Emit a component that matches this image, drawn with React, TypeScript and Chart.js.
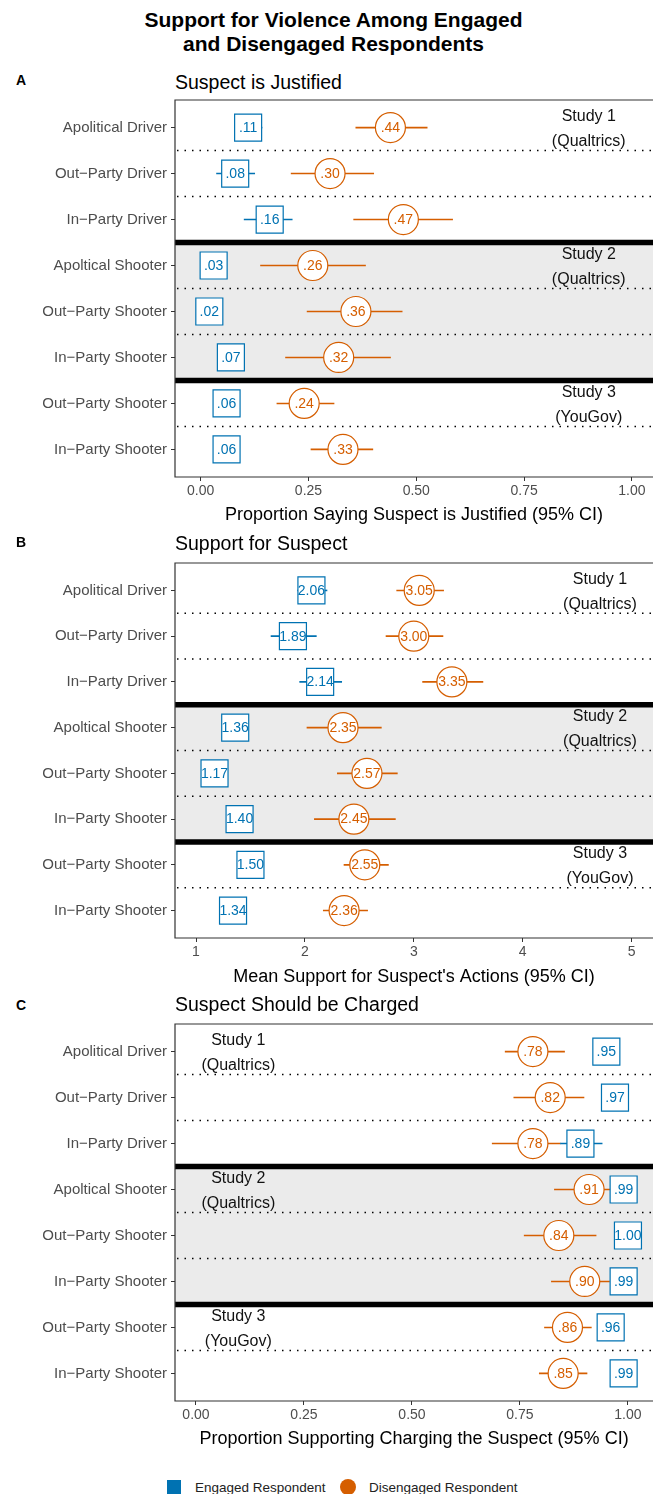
import React, { useEffect, useRef } from "react";
import { Chart, registerables } from "chart.js";

Chart.register(...registerables);

// ---------------- data ----------------
const ROW_LABELS = [
  "Apolitical Driver",
  "Out\u2212Party Driver",
  "In\u2212Party Driver",
  "Apoltical Shooter",
  "Out\u2212Party Shooter",
  "In\u2212Party Shooter",
  "Out\u2212Party Shooter",
  "In\u2212Party Shooter",
];

const STUDY_ROWS = [0, 3, 6];
const STUDY_LINES = [
  ["Study 1", "(Qualtrics)"],
  ["Study 2", "(Qualtrics)"],
  ["Study 3", "(YouGov)"],
];

// Panel A: Suspect is Justified (proportion)
const A_ENGAGED = [0.11, 0.08, 0.16, 0.03, 0.02, 0.07, 0.06, 0.06];
const A_ENGAGED_LOW = [0.085, 0.036, 0.1, 0.005, 0.0, 0.045, 0.035, 0.035];
const A_ENGAGED_HIGH = [0.143, 0.126, 0.213, 0.055, 0.045, 0.095, 0.085, 0.085];
const A_DISENGAGED = [0.44, 0.3, 0.47, 0.26, 0.36, 0.32, 0.24, 0.33];
const A_DISENGAGED_LOW = [0.359, 0.209, 0.354, 0.138, 0.246, 0.196, 0.176, 0.255];
const A_DISENGAGED_HIGH = [0.526, 0.402, 0.585, 0.383, 0.468, 0.441, 0.31, 0.4];
const A_TICKS = [0, 0.25, 0.5, 0.75, 1.0];

// Panel B: Support for Suspect (mean)
const B_ENGAGED = [2.06, 1.89, 2.14, 1.36, 1.17, 1.4, 1.5, 1.34];
const B_ENGAGED_LOW = [1.93, 1.686, 1.949, 1.26, 1.07, 1.3, 1.4, 1.24];
const B_ENGAGED_HIGH = [2.206, 2.108, 2.341, 1.46, 1.27, 1.5, 1.6, 1.44];
const B_DISENGAGED = [3.05, 3.0, 3.35, 2.35, 2.57, 2.45, 2.55, 2.36];
const B_DISENGAGED_LOW = [2.84, 2.742, 3.078, 2.016, 2.295, 2.084, 2.356, 2.166];
const B_DISENGAGED_HIGH = [3.277, 3.271, 3.638, 2.705, 2.852, 2.834, 2.77, 2.579];
const B_TICKS = [1, 2, 3, 4, 5];

// Panel C: Suspect Should be Charged (proportion)
const C_ENGAGED = [0.95, 0.97, 0.89, 0.99, 1.0, 0.99, 0.96, 0.99];
const C_ENGAGED_LOW = [0.93, 0.95, 0.843, 0.97, 0.985, 0.97, 0.94, 0.97];
const C_ENGAGED_HIGH = [0.97, 0.99, 0.941, 1.0, 1.0, 1.0, 0.98, 1.0];
const C_DISENGAGED = [0.78, 0.82, 0.78, 0.91, 0.84, 0.9, 0.86, 0.85];
const C_DISENGAGED_LOW = [0.715, 0.735, 0.685, 0.829, 0.759, 0.822, 0.806, 0.794];
const C_DISENGAGED_HIGH = [0.854, 0.899, 0.844, 0.962, 0.927, 0.958, 0.916, 0.906];
const C_TICKS = [0, 0.25, 0.5, 0.75, 1.0];

// ---------------- style ----------------
const FONT = '"Liberation Sans", Arial, Helvetica, sans-serif';
const BLUE = "#0072B2";
const ORANGE = "#D55E00";
const SHADE = "#EBEBEB";
const AXIS_GRAY = "#4D4D4D";
const BORDER = "#333333";
const W = 653;

const fmtProp = (v: number) => v.toFixed(2).replace(/^0/, "");
const fmtMean = (v: number) => v.toFixed(2);

type PanelCfg = {
  key: string;
  top: number;
  height: number;
  xmin: number;
  xmax: number;
  ticks: number[];
  tickFmt: (v: number) => string;
  labelFmt: (v: number) => string;
  xTitle: string;
  titlePad: number;
  studyX: number;
  eng: number[];
  engLo: number[];
  engHi: number[];
  dis: number[];
  disLo: number[];
  disHi: number[];
};

const PANELS: PanelCfg[] = [
  {
    key: "A",
    top: 90,
    height: 445,
    xmin: -0.0596,
    xmax: 1.049,
    ticks: A_TICKS,
    tickFmt: (v) => v.toFixed(2),
    labelFmt: fmtProp,
    xTitle: "Proportion Saying Suspect is Justified (95% CI)",
    titlePad: 9,
    studyX: 0.9,
    eng: A_ENGAGED,
    engLo: A_ENGAGED_LOW,
    engHi: A_ENGAGED_HIGH,
    dis: A_DISENGAGED,
    disLo: A_DISENGAGED_LOW,
    disHi: A_DISENGAGED_HIGH,
  },
  {
    key: "B",
    top: 553,
    height: 443,
    xmin: 0.807,
    xmax: 5.197,
    ticks: B_TICKS,
    tickFmt: (v) => String(v),
    labelFmt: fmtMean,
    xTitle: "Mean Support for Suspect's Actions (95% CI)",
    titlePad: 8.5,
    studyX: 4.71,
    eng: B_ENGAGED,
    engLo: B_ENGAGED_LOW,
    engHi: B_ENGAGED_HIGH,
    dis: B_DISENGAGED,
    disLo: B_DISENGAGED_LOW,
    disHi: B_DISENGAGED_HIGH,
  },
  {
    key: "C",
    top: 1014,
    height: 445,
    xmin: -0.0486,
    xmax: 1.058,
    ticks: C_TICKS,
    tickFmt: (v) => v.toFixed(2),
    labelFmt: fmtProp,
    xTitle: "Proportion Supporting Charging the Suspect (95% CI)",
    titlePad: 9,
    studyX: 0.098,
    eng: C_ENGAGED,
    engLo: C_ENGAGED_LOW,
    engHi: C_ENGAGED_HIGH,
    dis: C_DISENGAGED,
    disLo: C_DISENGAGED_LOW,
    disHi: C_DISENGAGED_HIGH,
  },
];

const DOTTED_AT = [0.5, 1.5, 3.5, 4.5, 6.5];
const THICK_AT = [2.5, 5.5];
const SHADE_RANGE = [2.5, 5.5];

function makeDecor(p: PanelCfg) {
  return {
    id: "decor_" + p.key,
    beforeDatasetsDraw(chart: any) {
      const { ctx, chartArea: ca } = chart;
      const x = chart.scales.x;
      const y = chart.scales.y;
      ctx.save();
      const y1 = y.getPixelForValue(SHADE_RANGE[0]);
      const y2 = y.getPixelForValue(SHADE_RANGE[1]);
      ctx.fillStyle = SHADE;
      ctx.fillRect(ca.left, y1, ca.right - ca.left, y2 - y1);

      ctx.strokeStyle = "#000";
      ctx.lineWidth = 1.5;
      ctx.setLineDash([1.5, 6]);
      DOTTED_AT.forEach((v) => {
        const yy = y.getPixelForValue(v);
        ctx.beginPath();
        ctx.moveTo(ca.left + 2, yy);
        ctx.lineTo(ca.right, yy);
        ctx.stroke();
      });
      ctx.setLineDash([]);

      ctx.lineWidth = 1.6;
      const drawCI = (lo: number[], hi: number[], color: string) => {
        ctx.strokeStyle = color;
        lo.forEach((l, i) => {
          const yy = y.getPixelForValue(i);
          ctx.beginPath();
          ctx.moveTo(x.getPixelForValue(l), yy);
          ctx.lineTo(x.getPixelForValue(hi[i]), yy);
          ctx.stroke();
        });
      };
      drawCI(p.disLo, p.disHi, ORANGE);
      drawCI(p.engLo, p.engHi, BLUE);
      ctx.restore();
    },
    afterDatasetsDraw(chart: any) {
      const { ctx, chartArea: ca } = chart;
      const x = chart.scales.x;
      const y = chart.scales.y;
      ctx.save();
      // thick study separators
      ctx.strokeStyle = "#000";
      ctx.lineWidth = 5.6;
      THICK_AT.forEach((v) => {
        const yy = y.getPixelForValue(v);
        ctx.beginPath();
        ctx.moveTo(ca.left, yy);
        ctx.lineTo(ca.right, yy);
        ctx.stroke();
      });
      // panel border (right side is off the page)
      ctx.strokeStyle = BORDER;
      ctx.lineWidth = 1.2;
      ctx.beginPath();
      ctx.moveTo(ca.right, ca.top);
      ctx.lineTo(ca.left, ca.top);
      ctx.lineTo(ca.left, ca.bottom);
      ctx.lineTo(ca.right, ca.bottom);
      ctx.stroke();

      // labels inside marks
      ctx.font = `14px ${FONT}`;
      ctx.textAlign = "center";
      ctx.textBaseline = "middle";
      p.eng.forEach((v, i) => {
        ctx.fillStyle = BLUE;
        ctx.fillText(p.labelFmt(v), x.getPixelForValue(v), y.getPixelForValue(i) + 0.5);
      });
      p.dis.forEach((v, i) => {
        ctx.fillStyle = ORANGE;
        ctx.fillText(p.labelFmt(v), x.getPixelForValue(v), y.getPixelForValue(i) + 0.5);
      });

      // study labels
      ctx.font = `16px ${FONT}`;
      ctx.fillStyle = "#111";
      STUDY_ROWS.forEach((r, k) => {
        const cx = x.getPixelForValue(p.studyX);
        const cy = y.getPixelForValue(r);
        ctx.fillText(STUDY_LINES[k][0], cx, cy - 11);
        ctx.fillText(STUDY_LINES[k][1], cx, cy + 14);
      });
      ctx.restore();
    },
  };
}

function Panel({ cfg }: { cfg: PanelCfg }) {
  const ref = useRef<HTMLCanvasElement>(null);
  useEffect(() => {
    const chart = new Chart(ref.current as HTMLCanvasElement, {
      type: "scatter",
      data: {
        datasets: [
          {
            label: "Engaged Respondent",
            data: cfg.eng.map((v, i) => ({ x: v, y: i })),
            pointStyle: "rect",
            pointRadius: 19.1,
            pointBackgroundColor: "#ffffff",
            pointBorderColor: BLUE,
            pointBorderWidth: 1.2,
            showLine: false,
            clip: false,
          },
          {
            label: "Disengaged Respondent",
            data: cfg.dis.map((v, i) => ({ x: v, y: i })),
            pointStyle: "circle",
            pointRadius: 15,
            pointBackgroundColor: "#ffffff",
            pointBorderColor: ORANGE,
            pointBorderWidth: 1.2,
            showLine: false,
            clip: false,
          },
        ],
      },
      options: {
        animation: false,
        responsive: false,
        events: [],
        layout: { autoPadding: false, padding: { top: 10, left: 0, right: 0, bottom: 0 } },
        plugins: {
          legend: { display: false },
          tooltip: { enabled: false },
          title: { display: false },
        },
        scales: {
          x: {
            type: "linear",
            min: cfg.xmin,
            max: cfg.xmax,
            afterBuildTicks: (s: any) => {
              s.ticks = cfg.ticks.map((v) => ({ value: v }));
            },
            afterFit: (s: any) => {
              s.height = 58;
              s.paddingLeft = 0;
              s.paddingRight = 0;
              s.paddingTop = 0;
              s.paddingBottom = 0;
            },
            ticks: {
              callback: (v: any) => cfg.tickFmt(Number(v)),
              color: AXIS_GRAY,
              font: { family: FONT, size: 14 },
              padding: 2,
              maxRotation: 0,
              autoSkip: false,
            },
            grid: {
              drawOnChartArea: false,
              drawTicks: true,
              tickLength: 4,
              color: BORDER,
              lineWidth: 1,
            },
            border: { display: false },
            title: {
              display: true,
              text: cfg.xTitle,
              color: "#000",
              font: { family: FONT, size: 18 },
              padding: { top: 0, bottom: cfg.titlePad },
            },
          },
          y: {
            type: "linear",
            min: -0.6,
            max: 7.6,
            reverse: true,
            afterBuildTicks: (s: any) => {
              s.ticks = ROW_LABELS.map((_, i) => ({ value: i }));
            },
            afterFit: (s: any) => {
              s.width = 175;
              s.paddingLeft = 0;
              s.paddingRight = 0;
              s.paddingTop = 0;
              s.paddingBottom = 0;
            },
            ticks: {
              callback: (v: any) => ROW_LABELS[Number(v)],
              color: AXIS_GRAY,
              font: { family: FONT, size: 15 },
              padding: 4,
              autoSkip: false,
            },
            grid: {
              drawOnChartArea: false,
              drawTicks: true,
              tickLength: 4,
              color: BORDER,
              lineWidth: 1,
            },
            border: { display: false },
          },
        },
      },
      plugins: [makeDecor(cfg)],
    } as any);
    return () => chart.destroy();
  }, [cfg]);
  return (
    <canvas
      ref={ref}
      width={W}
      height={cfg.height}
      style={{ position: "absolute", left: 0, top: cfg.top, width: W, height: cfg.height }}
    />
  );
}

function Txt({
  x,
  baseline,
  size,
  bold,
  children,
  width,
  align,
  color,
}: {
  x: number;
  baseline: number;
  size: number;
  bold?: boolean;
  children: React.ReactNode;
  width?: number;
  align?: "left" | "center";
  color?: string;
}) {
  return (
    <div
      style={{
        position: "absolute",
        left: x,
        top: baseline - 0.8465 * size,
        width: width,
        textAlign: align || "left",
        fontFamily: FONT,
        fontSize: size,
        lineHeight: `${size}px`,
        fontWeight: bold ? "bold" : "normal",
        color: color || "#000",
        whiteSpace: "nowrap",
      }}
    >
      {children}
    </div>
  );
}

const PANEL_TITLES = ["Suspect is Justified", "Support for Suspect", "Suspect Should be Charged"];
const TITLE_BASELINES = [89.3, 550.7, 1011.7];
const LETTER_BASELINES = [85, 547, 1010];

export default function App() {
  return (
    <div
      style={{
        position: "absolute",
        left: 0,
        top: 0,
        width: W,
        height: 1494,
        background: "#fff",
        overflow: "hidden",
      }}
    >
      <Txt x={0} width={667} align="center" baseline={27} size={21} bold>
        Support for Violence Among Engaged
      </Txt>
      <Txt x={0} width={667} align="center" baseline={51} size={21} bold>
        and Disengaged Respondents
      </Txt>
      {PANELS.map((p, i) => (
        <React.Fragment key={p.key}>
          <Txt x={16} baseline={LETTER_BASELINES[i]} size={14} bold>
            {p.key}
          </Txt>
          <Txt x={175} baseline={TITLE_BASELINES[i]} size={19.5}>
            {PANEL_TITLES[i]}
          </Txt>
          <Panel cfg={p} />
        </React.Fragment>
      ))}
      {/* legend */}
      <div style={{ position: "absolute", left: 167, top: 1480, width: 14, height: 14, background: BLUE }} />
      <Txt x={195} baseline={1492} size={13.5} color="#222">
        Engaged Respondent
      </Txt>
      <div
        style={{
          position: "absolute",
          left: 340,
          top: 1479,
          width: 16,
          height: 16,
          borderRadius: 8,
          background: ORANGE,
        }}
      />
      <Txt x={369} baseline={1492} size={13.5} color="#222">
        Disengaged Respondent
      </Txt>
    </div>
  );
}
